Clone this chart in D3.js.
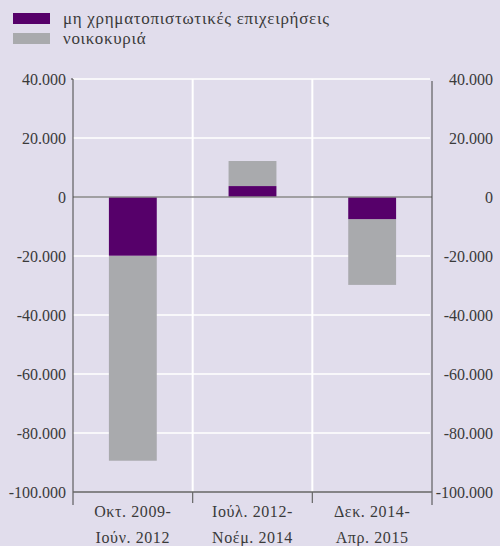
<!DOCTYPE html>
<html>
<head>
<meta charset="utf-8">
<script src="https://cdn.jsdelivr.net/npm/d3@7"></script>
<style>
  html, body { margin: 0; padding: 0; background: #e1ddec; }
  svg { display: block; }
  svg text { font-family: "Liberation Serif", "Times New Roman", Times, "DejaVu Serif", "Noto Serif", serif !important; fill: #3a3a3a; }
</style>
</head>
<body>
<svg id="chart" width="500" height="546"></svg>
<script>
// Periods (two-line labels)
const categories = ["Οκτ. 2009-|Ιούν. 2012", "Ιούλ. 2012-|Νοέμ. 2014", "Δεκ. 2014-|Απρ. 2015"];
const seriesNames = ["μη χρηματοπιστωτικές επιχειρήσεις", "νοικοκυριά"];
const corporates = [-19900, 3700, -7500];
const households = [-69500, 8500, -22300];
const yTicks = [40000, 20000, 0, -20000, -40000, -60000, -80000, -100000];

const colors = ["#56006a", "#a9aaad"];

const svg = d3.select("#chart");
const mLeft = 73, mRight = 432, mTop = 79, mBottom = 492;

const x = d3.scaleBand().domain(categories).range([mLeft, mRight]).paddingInner(0).paddingOuter(0);
const y = d3.scaleLinear().domain([-100000, 40000]).range([mBottom, mTop]);

const locale = d3.formatLocale({ decimal: ",", thousands: ".", grouping: [3], currency: ["", ""], minus: "-" });
const fmt = locale.format(",.0f");

// Gridlines
const grid = svg.append("g");
grid.selectAll("line.h").data(yTicks.filter(d => d !== 0 && d !== -100000)).join("line")
  .attr("class", "h")
  .attr("x1", mLeft).attr("x2", mRight - 2)
  .attr("y1", d => y(d)).attr("y2", d => y(d))
  .attr("stroke", "#ffffff").attr("stroke-width", 1.6);
grid.selectAll("line.v").data(categories.slice(1)).join("line")
  .attr("class", "v")
  .attr("x1", d => x(d)).attr("x2", d => x(d))
  .attr("y1", mTop).attr("y2", mBottom)
  .attr("stroke", "#ffffff").attr("stroke-width", 2);

// Stacked bars: corporates from zero, households stacked beyond
const rows = categories.map((c, i) => ({ c, a: corporates[i], b: households[i] }));
const bw = x.bandwidth() * 0.4;
const bx = d => x(d.c) + (x.bandwidth() - bw) / 2;
svg.append("g").selectAll("rect").data(rows).join("rect")
  .attr("x", bx).attr("width", bw)
  .attr("y", d => Math.min(y(d.a), y(d.a + d.b)))
  .attr("height", d => Math.abs(y(d.a + d.b) - y(d.a)))
  .attr("fill", colors[1]);
svg.append("g").selectAll("rect").data(rows).join("rect")
  .attr("x", bx).attr("width", bw)
  .attr("y", d => Math.min(y(0), y(d.a)))
  .attr("height", d => Math.abs(y(d.a) - y(0)))
  .attr("fill", colors[0]);

// Zero line
svg.append("line")
  .attr("x1", mLeft).attr("x2", mRight)
  .attr("y1", y(0)).attr("y2", y(0))
  .attr("stroke", "#8a8a8a").attr("stroke-width", 1.5);

// Left axis
const yAxisL = svg.append("g").attr("transform", `translate(${mLeft},0)`)
  .call(d3.axisLeft(y).tickValues(yTicks).tickFormat(fmt).tickSize(0).tickPadding(7));
yAxisL.attr("font-family", null);
yAxisL.select(".domain").remove();
yAxisL.selectAll("text").attr("font-size", 16).attr("fill", "#3a3a3a");
svg.append("line").attr("x1", mLeft).attr("x2", mLeft).attr("y1", mTop).attr("y2", mBottom + 13)
  .attr("stroke", "#444").attr("stroke-width", 1);
svg.append("line").attr("x1", mLeft - 2).attr("x2", mLeft).attr("y1", mTop).attr("y2", mTop)
  .attr("stroke", "#444").attr("stroke-width", 1);

// Right axis
const yAxisR = svg.append("g").attr("transform", `translate(${mRight},0)`)
  .call(d3.axisRight(y).tickValues(yTicks).tickFormat(fmt).tickSize(0).tickPadding(2));
yAxisR.attr("font-family", null);
yAxisR.select(".domain").remove();
yAxisR.selectAll("text").attr("font-size", 16).attr("fill", "#3a3a3a")
  .attr("text-anchor", "end").attr("x", 61);
svg.append("line").attr("x1", mRight).attr("x2", mRight).attr("y1", mTop + 2).attr("y2", mBottom + 13)
  .attr("stroke", "#444").attr("stroke-width", 1);

// Bottom axis
svg.append("line").attr("x1", mLeft).attr("x2", mRight).attr("y1", mBottom).attr("y2", mBottom)
  .attr("stroke", "#666").attr("stroke-width", 1.5);
svg.append("g").selectAll("line").data(categories.slice(1)).join("line")
  .attr("x1", d => x(d)).attr("x2", d => x(d))
  .attr("y1", mBottom).attr("y2", mBottom + 11)
  .attr("stroke", "#666").attr("stroke-width", 1.2);

const xl = svg.append("g").selectAll("text").data(categories).join("text")
  .attr("x", d => x(d) + x.bandwidth() / 2)
  .attr("text-anchor", "middle")
  .attr("font-size", 16)
  .attr("letter-spacing", 0.6);
xl.append("tspan").attr("x", d => x(d) + x.bandwidth() / 2).attr("y", 517).text(d => d.split("|")[0]);
xl.append("tspan").attr("x", d => x(d) + x.bandwidth() / 2).attr("y", 543).text(d => d.split("|")[1]);

// Legend
const lg = svg.append("g").selectAll("g").data(seriesNames).join("g")
  .attr("transform", (d, i) => `translate(13, ${13 + i * 20})`);
lg.append("rect").attr("width", 37).attr("height", 11).attr("fill", (d, i) => colors[i]);
lg.append("text").attr("x", 50).attr("y", 11).attr("font-size", 17).attr("letter-spacing", 0.7)
  .attr("fill", "#444").text(d => d);
</script>
</body>
</html>
